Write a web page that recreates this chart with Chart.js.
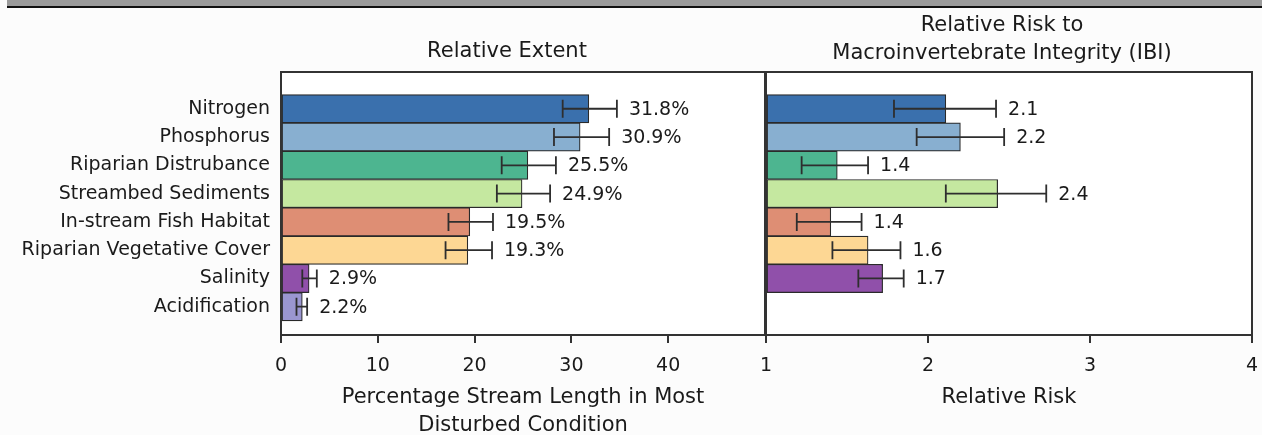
<!DOCTYPE html>
<html lang="en">
<head>
<meta charset="UTF-8">
<title>Relative Extent and Relative Risk</title>
<script src="https://cdn.jsdelivr.net/npm/chart.js"></script>
<style>
  body { margin: 0; background: #fcfcfc; width: 1262px; height: 435px; overflow: hidden; position: relative; }
  .band { position: absolute; left: 7px; top: 0; width: 1255px; height: 6px; background: #9b9b9b; border-bottom: 2px solid #111; }
  #extentChart { position: absolute; left: 0; top: 0; }
  #riskChart { position: absolute; left: 756px; top: 0; }
</style>
</head>
<body>
<div class="band"></div>
<canvas id="extentChart" width="776" height="442"></canvas>
<canvas id="riskChart" width="506" height="442"></canvas>
<script>
// stressor categories, top to bottom
const categories = ['Nitrogen', 'Phosphorus', 'Riparian Distrubance', 'Streambed Sediments',
  'In-stream Fish Habitat', 'Riparian Vegetative Cover', 'Salinity', 'Acidification'];

// left panel: % stream length in most disturbed condition
const extentValues = [31.8, 30.9, 25.5, 24.9, 19.5, 19.3, 2.9, 2.2];
const extentLow    = [29.1, 28.2, 22.8, 22.3, 17.3, 17.0, 2.2, 1.6];
const extentHigh   = [34.7, 33.9, 28.4, 27.8, 21.9, 21.8, 3.7, 2.7];
const extentTicks  = [0, 10, 20, 30, 40];

// right panel: relative risk (no value for acidification)
const riskValues = [2.11, 2.2, 1.44, 2.43, 1.4, 1.63, 1.72, null];
const riskLow    = [1.79, 1.93, 1.22, 2.11, 1.19, 1.41, 1.57, null];
const riskHigh   = [2.42, 2.47, 1.63, 2.73, 1.59, 1.83, 1.85, null];
const riskTicks  = [1, 2, 3, 4];

const extentTitle = ['Relative Extent'];
const riskTitle = ['Relative Risk to', 'Macroinvertebrate Integrity (IBI)'];
const extentAxisTitle = ['Percentage Stream Length in Most', 'Disturbed Condition'];
const riskAxisTitle = 'Relative Risk';

const barColors = ['#3a70ad', '#88afd0', '#4db590', '#c5e8a0', '#de8e74', '#fdd794', '#9050aa', '#9a96d0'];
const ink = '#1a1a1a';

Chart.defaults.font.family = "'DejaVu Sans', sans-serif";
Chart.defaults.color = ink;

// white plot area + box around it
const frame = {
  id: 'frame',
  beforeDraw(chart) {
    const a = chart.chartArea, ctx = chart.ctx;
    ctx.save();
    ctx.fillStyle = '#ffffff';
    ctx.fillRect(a.left, a.top, a.right - a.left, a.bottom - a.top);
    ctx.restore();
  },
  afterDraw(chart) {
    const a = chart.chartArea, ctx = chart.ctx;
    ctx.save();
    ctx.strokeStyle = '#333';
    ctx.lineWidth = 2;
    ctx.strokeRect(a.left, a.top, a.right - a.left, a.bottom - a.top);
    ctx.restore();
  }
};

function panelTitle(lines, x, baselines) {
  return {
    id: 'panelTitle',
    afterDraw(chart) {
      const ctx = chart.ctx;
      ctx.save();
      ctx.font = "21px 'DejaVu Sans'";
      ctx.fillStyle = ink;
      ctx.textAlign = 'center';
      ctx.textBaseline = 'alphabetic';
      lines.forEach((t, i) => ctx.fillText(t, x, baselines[i]));
      ctx.restore();
    }
  };
}

function errorBars(values, low, high, suffix) {
  return {
    id: 'errorBars',
    afterDatasetsDraw(chart) {
      const {ctx, scales: {x, y}} = chart;
      ctx.save();
      ctx.strokeStyle = '#2e2e2e';
      ctx.lineWidth = 1.8;
      ctx.fillStyle = ink;
      ctx.font = "19px 'DejaVu Sans'";
      ctx.textAlign = 'left';
      ctx.textBaseline = 'middle';
      values.forEach((v, i) => {
        if (v == null) return;
        const cy = y.getPixelForValue(i);
        const x0 = x.getPixelForValue(low[i]);
        const x1 = x.getPixelForValue(high[i]);
        ctx.beginPath();
        ctx.moveTo(x0, cy); ctx.lineTo(x1, cy);
        ctx.moveTo(x0, cy - 9); ctx.lineTo(x0, cy + 9);
        ctx.moveTo(x1, cy - 9); ctx.lineTo(x1, cy + 9);
        ctx.stroke();
        ctx.fillText(v.toFixed(1) + suffix, x1 + 12, cy + 1);
      });
      ctx.restore();
    }
  };
}

function yScale(show) {
  return {
    type: 'linear', reverse: true, min: -1.3, max: 8, offset: false,
    display: show,
    grid: { display: false, drawTicks: false, offset: false },
    border: { display: false },
    afterBuildTicks: s => { s.ticks = categories.map((c, i) => ({ value: i })); },
    afterFit: s => { s.width = show ? 281 : 0; },
    ticks: { padding: 11, font: { size: 19 }, callback: v => categories[v] }
  };
}

function xScale(min, max, tickList, title, titlePad) {
  return {
    type: 'linear', position: 'bottom', min: min, max: max,
    afterBuildTicks: s => { s.ticks = tickList.map(v => ({ value: v })); },
    // fixed height, and no extra side room for the end labels
    afterFit: s => { s.height = 107; s.paddingLeft = 0; s.paddingRight = 0; },
    grid: { drawOnChartArea: false, drawTicks: true, tickLength: 8, color: '#333', lineWidth: 2 },
    border: { display: false },
    ticks: { padding: 12, maxRotation: 0, autoSkip: false, font: { size: 19 } },
    title: { display: true, text: title, font: { size: 21, lineHeight: 1.35 }, padding: { top: 0, bottom: titlePad } }
  };
}

function bars(values) {
  return {
    data: values.map((v, i) => ({ x: v, y: i })),
    backgroundColor: barColors,
    borderColor: '#2a2a2a',
    borderWidth: 1.2,
    borderSkipped: false,
    barPercentage: 1,
    categoryPercentage: 1
  };
}

const common = {
  responsive: false,
  animation: false,
  indexAxis: 'y',
  plugins: { legend: { display: false }, tooltip: { enabled: false }, title: { display: false } }
};

new Chart(document.getElementById('extentChart'), {
  type: 'bar',
  data: { datasets: [bars(extentValues)] },
  options: Object.assign({}, common, {
    layout: { padding: { top: 72, right: 11, left: 0, bottom: 0 } },
    scales: { x: xScale(0, 50, extentTicks, extentAxisTitle, 2), y: yScale(true) }
  }),
  plugins: [frame, panelTitle(extentTitle, 507, [57]), errorBars(extentValues, extentLow, extentHigh, '%')]
});

const riskSet = bars(riskValues);
riskSet.base = 1;
new Chart(document.getElementById('riskChart'), {
  type: 'bar',
  data: { datasets: [riskSet] },
  options: Object.assign({}, common, {
    layout: { padding: { top: 72, right: 10, left: 10, bottom: 0 } },
    scales: { x: xScale(1, 4, riskTicks, riskAxisTitle, 30), y: yScale(false) }
  }),
  plugins: [frame, panelTitle(riskTitle, 246, [31, 59]), errorBars(riskValues, riskLow, riskHigh, '')]
});
</script>
</body>
</html>
